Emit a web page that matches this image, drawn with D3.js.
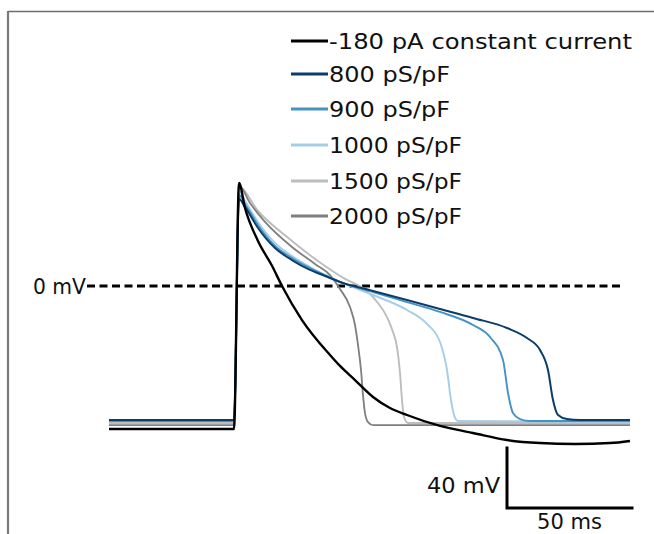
<!DOCTYPE html>
<html><head><meta charset="utf-8">
<script src="https://cdn.jsdelivr.net/npm/d3@7"></script>
<style>body{margin:0;background:#fff}svg{display:block}text{font-family:"DejaVu Sans",sans-serif;fill:#111}</style>
</head><body>
<script>
// ---- data (time in ms from stimulus, voltage in mV) ----
const seriesNames = ["-180 pA constant current","800 pS/pF","900 pS/pF","1000 pS/pF","1500 pS/pF","2000 pS/pF"];
const seriesColors = ["#000000","#0b3d6b","#4592c4","#a6cde8","#bdbdbd","#7f7f7f"];

const trace180pA = [[-50,-95.3],[0,-95.3],[2,68.7],[4.4,52],[9.6,30],[15.2,13.5],[19.2,0],[27.2,-22.7],[38.4,-46],[42.4,-53.3],[48.4,-62.7],[55.6,-74],[62.4,-81.3],[69.2,-86],[82.4,-93.3],[95.6,-98],[109.2,-102.7],[122.4,-104.7],[136.4,-105.3],[150.4,-104.7],[158.4,-103.3]];
const trace800 = [[-50,-89.3],[0,-89.3],[2,58],[4.4,52.7],[9.6,38.7],[16.4,25.3],[23.2,17.3],[30.4,10.7],[36.4,6.7],[42.4,2.7],[55.6,-3.3],[69.2,-9.3],[82.4,-15.3],[95.6,-21.3],[109.2,-28],[117.2,-34.7],[122.4,-42.7],[125.6,-56],[127.6,-76],[129.6,-86],[133.2,-88.7],[138.4,-89.3],[158.4,-89.3]];
const trace900 = [[-50,-90],[0,-90],[2,60.7],[4.4,54.7],[9.6,40.7],[16.4,26.7],[23.2,18.7],[30.4,12],[36.4,7.3],[42.4,2.7],[55.6,-4],[69.2,-10.7],[82.4,-17.3],[95.6,-26],[102.4,-34],[107.6,-49.3],[109.6,-71.3],[111.6,-84.7],[114.4,-88.7],[118.4,-90],[158.4,-90]];
const trace1000 = [[-50,-90],[0,-90],[2,63.3],[4.4,56.7],[9.6,42.7],[16.4,28.7],[23.2,20],[30.4,12.7],[36.4,7.3],[42.4,2.7],[55.6,-6],[69.2,-16],[77.2,-25.3],[82.4,-37.3],[85.2,-56],[86.8,-76],[88,-86],[89.6,-90],[158.4,-90.7]];
const trace1500 = [[-50,-91.3],[0,-91.3],[2,66],[9.6,50],[23.2,30],[36.4,13.3],[44.4,4.7],[51.6,-1.3],[57.6,-11.3],[61.2,-20.7],[63.6,-30.7],[65.2,-40.7],[66.4,-58],[67.2,-76],[68,-87.3],[69.6,-91.3],[158.4,-91.3]];
const trace2000 = [[-50,-92.7],[0,-92.7],[2,66.7],[6.4,55.3],[12.4,42.7],[23.2,26],[32.4,14.7],[38.4,7.3],[42.4,-2],[46.4,-14],[48.4,-26],[49.6,-39.3],[50.8,-56],[51.6,-72.7],[52.4,-84.7],[53.6,-90.7],[55.6,-92.7],[158.4,-92.7]];

const zeroLineRange = [-58.8, 155.2];   // ms extent of the 0 mV dashed reference
const scaleBarOrigin = [109.2, -148];   // ms, mV
const scaleBarTime = 50;                // ms
const scaleBarVolt = 40;                // mV
const zeroLabel = "0 mV";
const voltLabel = "40 mV";
const timeLabel = "50 ms";

// ---- drawing ----
const W = 654, H = 534, FS = 22;
const x = d3.scaleLinear().domain([0, 100]).range([234, 484]);
const y = d3.scaleLinear().domain([0, -100]).range([286, 436]);

const svg = d3.select("body").append("svg").attr("width", W).attr("height", H);
svg.append("rect").attr("width", W).attr("height", H).attr("fill", "#fff");

// frame (top & left border of the cropped figure)
svg.append("line").attr("x1", 8).attr("x2", W).attr("y1", 11.5).attr("y2", 11.5).attr("stroke", "#6e6e6e").attr("stroke-width", 1.3);
svg.append("line").attr("x1", 8).attr("x2", 8).attr("y1", 11).attr("y2", H).attr("stroke", "#7a7a7a").attr("stroke-width", 2.2);

// zero reference
svg.append("line")
  .attr("x1", x(zeroLineRange[0])).attr("x2", x(zeroLineRange[1]))
  .attr("y1", y(0)).attr("y2", y(0))
  .attr("stroke", "#000").attr("stroke-width", 3).attr("stroke-dasharray", "8,4.5");
svg.append("text").attr("x", x(zeroLineRange[0]) - 1).attr("y", y(0)).attr("dy", "0.36em")
  .attr("text-anchor", "end").attr("font-size", FS).attr("textLength", 53).attr("lengthAdjust","spacingAndGlyphs").text(zeroLabel);

const line = d3.line().x(d => x(d[0])).y(d => y(d[1])).curve(d3.curveMonotoneX);
const traces = [trace180pA, trace800, trace900, trace1000, trace1500, trace2000];
const widths = [2.4, 2, 1.9, 1.9, 1.9, 1.8];
const order = [4, 5, 3, 2, 1, 0];
order.forEach(i => {
  svg.append("path").datum(traces[i]).attr("d", line)
    .attr("fill", "none").attr("stroke", seriesColors[i]).attr("stroke-width", widths[i])
    .attr("stroke-linejoin", "round");
});

// legend
const legY = [41, 74, 109, 145, 181, 216];
const legLen = [303, 121, 121, 133, 133, 133];
seriesNames.forEach((n, i) => {
  svg.append("line").attr("x1", 291).attr("x2", 328).attr("y1", legY[i]).attr("y2", legY[i])
    .attr("stroke", seriesColors[i]).attr("stroke-width", 3);
  svg.append("text").attr("x", 329).attr("y", legY[i]).attr("dy", "0.36em").attr("font-size", FS)
    .attr("textLength", legLen[i]).attr("lengthAdjust", "spacingAndGlyphs").text(n);
});

// scale bar
const sx0 = x(scaleBarOrigin[0]), sy0 = y(scaleBarOrigin[1]);
const sx1 = x(scaleBarOrigin[0] + scaleBarTime), sy1 = y(scaleBarOrigin[1] + scaleBarVolt);
svg.append("path").attr("d", `M${sx0},${sy1}L${sx0},${sy0}L${sx1},${sy0}`)
  .attr("fill", "none").attr("stroke", "#000").attr("stroke-width", 3).attr("stroke-linecap", "square");
svg.append("text").attr("x", sx0 - 7).attr("y", (sy0 + sy1) / 2 + 7).attr("dy", "0.36em")
  .attr("text-anchor", "end").attr("font-size", FS).attr("textLength", 73).attr("lengthAdjust","spacingAndGlyphs").text(voltLabel);
svg.append("text").attr("x", (sx0 + sx1) / 2).attr("y", sy0 + 13).attr("dy", "0.36em")
  .attr("text-anchor", "middle").attr("font-size", FS).attr("textLength", 65).attr("lengthAdjust","spacingAndGlyphs").text(timeLabel);
</script>
</body></html>
